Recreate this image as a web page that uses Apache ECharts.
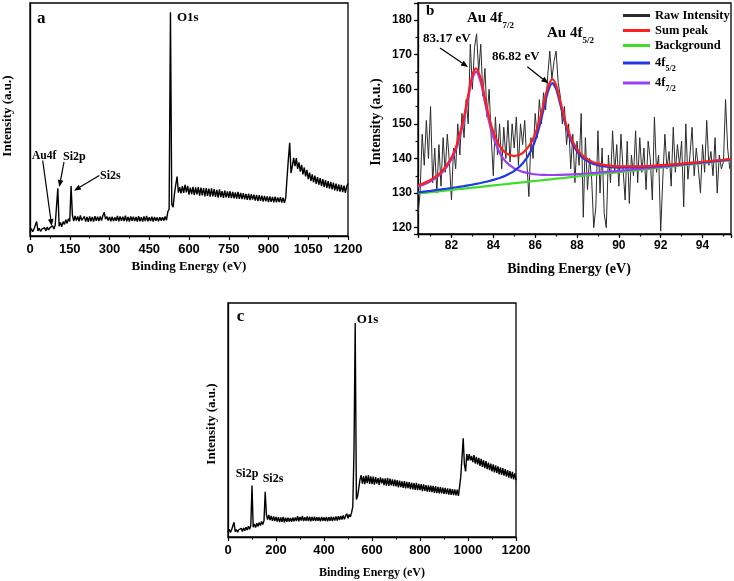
<!DOCTYPE html>
<html><head><meta charset="utf-8">
<script src="https://cdn.jsdelivr.net/npm/echarts@6/dist/echarts.min.js"></script>
<style>html,body{margin:0;padding:0;background:#fff}#c{width:734px;height:581px}</style>
</head><body><div id="c"></div>
<script>
// ---------- Panel a : survey spectrum (arbitrary intensity 0-100), sampled every 5 eV from 0 ----------
const surveyStart = 0, surveyStep = 5;
const surveyA = [
 2.0,3.2,1.8,3.0,2.6,6.2,2.2,3.3,2.0,3.0,
 2.4,3.6,2.2,3.8,2.6,3.5,3.0,4.4,3.0,4.6,
 3.8,20.5,4.2,5.8,4.0,6.2,5.0,7.0,5.4,7.4,
 6.2,21.5,9.0,6.4,8.6,6.6,8.4,6.3,8.8,6.7,
 6.4,8.4,6.2,8.2,6.1,8.4,6.3,8.2,6.2,8.5,
 6.5,8.3,6.4,8.4,6.6,8.8,10.2,7.2,8.4,6.6,
 8.2,6.3,8.3,6.4,8.0,6.5,8.6,6.3,8.4,6.5,
 8.3,6.4,8.7,6.3,8.2,6.2,8.4,6.5,8.3,6.4,
 8.2,6.2,8.5,6.3,8.1,6.2,8.4,6.4,8.6,6.3,
 8.1,6.4,8.3,6.2,8.2,6.5,8.0,6.3,8.1,6.6,
 8.0,6.6,8.4,6.8,10.4,11.5,96,13.5,12.4,18,
 22,25.5,18.6,21.0,18.3,21.4,18.5,22.0,18.7,21.5,
 17.8,20.8,18.0,21.1,17.5,20.9,17.9,21.0,17.3,20.8,
 17.4,20.6,17.0,20.5,17.2,20.3,16.9,20.4,17.0,20.1,
 16.8,19.8,16.5,20.0,16.7,19.3,16.4,19.5,16.6,19.1,
 16.4,19.2,16.3,18.9,16.2,18.7,16.0,18.9,15.9,18.5,
 15.8,18.4,15.7,18.1,15.5,18.2,15.4,17.9,15.6,17.7,
 15.2,17.6,15.0,17.5,15.1,17.3,14.8,17.2,14.9,17.0,
 14.6,17.0,14.7,16.8,14.5,16.9,14.4,16.6,14.6,16.7,
 14.3,16.5,14.2,16.4,25,33,40,27,30,33.5,
 30.0,33.4,28.8,31.6,27.6,30.5,26.4,29.4,25.6,28.4,
 24.4,27.2,23.6,26.4,23.0,25.9,22.4,25.3,22.0,24.8,
 21.4,24.4,21.0,24.0,20.6,23.6,20.3,23.2,20.0,22.9,
 19.6,22.5,19.3,22.2,19.0,21.9,18.8,21.6,18.5,21.3,
 22.5
];
// ---------- Panel c : survey spectrum, sampled every 5 eV from 0 ----------
const surveyC = [
 2.1,3.3,1.9,3.1,2.5,6.3,2.3,3.2,2.0,3.1,
 2.5,3.7,2.3,3.9,2.7,4.2,3.0,4.6,3.3,4.8,
 22.0,4.2,5.6,4.0,5.9,4.5,6.2,4.9,6.6,5.3,
 7.0,19.3,9.6,7.4,9.4,7.2,9.0,6.9,8.8,6.8,
 8.6,6.6,8.5,6.4,8.4,6.5,8.6,6.3,8.3,6.5,
 8.2,6.6,8.1,6.5,8.3,6.7,8.4,6.8,8.9,6.7,
 8.6,7.0,9.0,6.8,8.5,6.9,8.8,6.8,8.7,6.7,
 8.6,6.9,8.7,6.8,8.5,6.9,8.4,6.7,8.6,6.9,
 8.4,6.8,8.6,6.7,8.5,6.9,8.7,6.8,8.6,7.0,
 8.8,7.0,8.9,7.3,9.0,7.5,9.2,7.6,9.1,10.0,
 8.0,9.6,8.6,10.5,13,37,91.4,16,17.5,21,
 24.5,26.4,22.8,26.0,22.6,26.2,23.0,26.4,22.7,25.9,
 22.6,25.8,22.4,25.6,22.8,25.2,22.3,25.5,22.9,25.0,
 22.2,25.1,22.0,25.3,21.8,24.9,22.1,24.6,21.7,24.5,
 21.6,24.3,21.2,24.1,21.3,23.8,21.0,23.9,20.8,23.6,
 20.9,23.4,20.5,23.2,20.4,23.0,20.1,23.1,20.0,22.7,
 20.0,22.6,19.6,22.5,19.7,22.2,19.4,22.1,19.3,21.9,
 19.2,21.8,18.9,21.7,18.8,21.4,18.6,21.3,18.6,21.1,
 18.4,21.0,18.3,20.8,18.1,20.7,18.0,20.4,17.9,20.3,
 17.8,20.2,17.6,21.5,26,34,42.2,31,28,35.5,
 32.6,35.4,32.8,34.6,32.0,35.0,31.4,34.2,31.0,33.8,
 30.4,33.4,30.0,32.8,29.4,32.4,29.0,31.8,28.6,31.4,
 28.0,31.0,27.6,30.6,27.4,30.2,26.8,29.8,26.6,29.4,
 26.2,29.0,25.8,28.6,25.4,28.2,25.0,27.8,24.6,27.2,
 24.3
];
// ---------- Panel b : Au 4f raw intensity, every 0.1 eV from 80.4 ----------
const rawStart = 80.4, rawStep = 0.1;
const rawB = [
 124,130,147,138,151,140,155,133,143,130,
 144,132,146,136,147,139,128,143,137,150,
 141,153,146,157,150,173,160,172,176,165,
 173,158,166,152,160,146,135,152,141,150,
 137,149,140,151,139,150,143,152,138,150,
 144,151,139,129,146,140,153,146,157,150,
 159,154,164,171,163,168,171,162,158,150,
 155,144,150,137,147,133,145,138,153,123,
 146,131,140,134,120,126,148,130,143,124,
 120,141,133,148,136,144,132,147,137,128,
 145,127,141,135,148,133,146,136,143,131,
 145,140,128,152,136,141,119,134,147,137,
 142,132,149,136,144,138,145,126,150,134,
 141,149,135,143,137,130,144,136,151,138,
 142,135,146,130,141,137,139,157,143,137
];
// fitted curves (panel b)
const fitE   = [80.4,80.6,81.0,81.5,82.0,82.3,82.6,82.8,83.0,83.17,83.4,83.6,83.8,84.0,84.3,84.6,85.0,85.4,85.8,86.1,86.4,86.6,86.82,87.0,87.2,87.5,87.8,88.2,88.6,89.0,89.5,90.0,91.0,92.0,93.0,94.0,95.0,95.36];
const fitSum = [132.2,132.66,133.80,136.04,140.28,144.87,152.11,158.35,163.99,166.04,163.07,157.45,151.93,147.69,143.64,141.55,140.69,141.53,144.45,148.82,155.63,160.44,162.92,161.21,156.65,149.57,144.78,141.24,139.44,138.51,137.94,137.70,137.74,138.07,138.53,139.05,139.62,139.83];
const fitBg  = [129.87,130.0,130.26,130.58,130.90,131.10,131.29,131.42,131.55,131.66,131.81,131.94,132.07,132.20,132.40,132.59,132.85,133.11,133.37,133.56,133.76,133.89,134.03,134.15,134.28,134.47,134.67,134.93,135.18,135.44,135.77,136.07,136.72,137.36,138.01,138.65,139.30,139.53];
const fit52  = [130.2,130.35,130.65,131.05,131.47,131.75,132.03,132.24,132.45,132.64,132.92,133.19,133.48,133.81,134.38,135.10,136.42,138.53,142.24,147.02,154.13,159.10,161.73,160.13,155.67,148.72,144.03,140.60,138.89,138.03,137.54,137.35,137.48,137.86,138.36,138.91,139.50,139.72];
const fit72  = [131.87,132.31,133.41,135.57,139.71,144.22,151.37,157.53,163.09,165.06,161.96,156.20,150.52,146.08,141.66,139.05,137.12,136.11,135.58,135.36,135.26,135.22,135.22,135.23,135.26,135.32,135.42,135.57,135.73,135.92,136.17,136.42,136.99,137.57,138.18,138.79,139.42,139.64];
const legendNames = ['Raw Intensity','Sum peak','Background','4f5/2','4f7/2'];

function grid(start, step, vals){ return vals.map((v,i)=>[Math.round((start+i*step)*1000)/1000, v]); }
function pairs(xs, ys){ return xs.map((x,i)=>[x, ys[i]]); }

const SERIF = 'Liberation Serif', SANS = 'Liberation Sans';
const blk = '#000';
const tickLabel = {color:blk, fontFamily:SANS, fontWeight:'bold', fontSize:13};
const plain = (v)=>String(v);

function xAx(gi, extra){ return Object.assign({gridIndex:gi, type:'value', position:'bottom',
  axisLine:{show:true, onZero:false, lineStyle:{color:blk, width:1.3}},
  axisTick:{show:true, inside:false, length:4, lineStyle:{color:blk, width:1.2}},
  minorTick:{show:false}, splitLine:{show:false},
  axisLabel:Object.assign({margin:7, formatter:plain}, tickLabel)}, extra); }

const evenInt = (m)=> (v)=>{ const r=Math.round(v); return (Math.abs(v-r)<1e-6 && r % m === 0) ? String(r) : ''; };

const option = {
  animation:false,
  backgroundColor:'#fff',
  grid:[
    {left:30, top:3, width:318, height:233, show:true, borderColor:blk, borderWidth:1.3, backgroundColor:'transparent'},
    {left:418, top:3, width:315, height:231, show:true, borderColor:blk, borderWidth:1.3, backgroundColor:'transparent'},
    {left:228, top:303, width:288, height:234, show:true, borderColor:blk, borderWidth:1.3, backgroundColor:'transparent'}
  ],
  xAxis:[
    xAx(0,{min:0, max:1200, interval:150, minorTick:{show:true, splitNumber:2, length:2.5, lineStyle:{color:blk}}}),
    xAx(1,{min:80.4, max:95.36, splitNumber:7, axisLabel:Object.assign({margin:6}, tickLabel, {fontSize:12, formatter:evenInt(2)})}),
    xAx(1,{min:80.4, max:95.36, splitNumber:14, axisLine:{show:false}, axisTick:{show:true, length:2.5, lineStyle:{color:blk, width:1.2}}, axisLabel:{show:false}}),
    xAx(2,{min:0, max:1200, interval:200, minorTick:{show:true, splitNumber:2, length:2.5, lineStyle:{color:blk}}})
  ],
  yAxis:[
    {gridIndex:0, type:'value', min:0, max:100, axisLine:{show:true, lineStyle:{color:blk, width:1.3}}, axisTick:{show:false}, axisLabel:{show:false}, splitLine:{show:false}},
    {gridIndex:1, type:'value', position:'left', min:118.18, max:184.9, splitNumber:7,
      axisLine:{show:true, onZero:false, lineStyle:{color:blk, width:1.3}}, axisTick:{show:true, length:4, lineStyle:{color:blk, width:1.2}},
      axisLabel:Object.assign({margin:6}, tickLabel, {fontSize:12, formatter:evenInt(10)}), splitLine:{show:false}},
    {gridIndex:1, type:'value', position:'left', min:118.18, max:184.9, splitNumber:13,
      axisLine:{show:false}, axisTick:{show:true, length:2.5, lineStyle:{color:blk, width:1.2}}, axisLabel:{show:false}, splitLine:{show:false}},
    {gridIndex:2, type:'value', min:0, max:100, axisLine:{show:true, lineStyle:{color:blk, width:1.3}}, axisTick:{show:false}, axisLabel:{show:false}, splitLine:{show:false}}
  ],
  legend:{
    orient:'vertical', left:623, top:8, padding:0, itemGap:0, itemWidth:27, itemHeight:3, icon:'rect',
    selectedMode:false, data:legendNames,
    formatter:(n)=> n==='4f5/2' ? '4f{s|5/2}' : (n==='4f7/2' ? '4f{s|7/2}' : n),
    textStyle:{fontFamily:SERIF, fontWeight:'bold', fontSize:12.5, color:blk, lineHeight:15,
      rich:{s:{fontFamily:SERIF, fontWeight:'bold', fontSize:8, color:blk, verticalAlign:'bottom', lineHeight:20}}}
  },
  series:[
    {type:'line', name:'survey a', xAxisIndex:0, yAxisIndex:0, data:grid(surveyStart, surveyStep, surveyA), showSymbol:false, lineStyle:{color:blk, width:1.4}, itemStyle:{color:blk}},
    {type:'line', name:'survey c', xAxisIndex:3, yAxisIndex:3, data:grid(surveyStart, surveyStep, surveyC), showSymbol:false, lineStyle:{color:blk, width:1.4}, itemStyle:{color:blk}},
    {type:'line', name:'Raw Intensity', xAxisIndex:1, yAxisIndex:1, data:grid(rawStart, rawStep, rawB), showSymbol:false, lineStyle:{color:'#2b2b2b', width:1}, itemStyle:{color:'#2b2b2b'}},
    {type:'line', name:'Background', xAxisIndex:1, yAxisIndex:1, data:pairs(fitE, fitBg), showSymbol:false, lineStyle:{color:'#3fdc2a', width:2.2}, itemStyle:{color:'#3fdc2a'}},
    {type:'line', name:'4f7/2', xAxisIndex:1, yAxisIndex:1, data:pairs(fitE, fit72), smooth:0.3, showSymbol:false, lineStyle:{color:'#9a40f0', width:2.2}, itemStyle:{color:'#9a40f0'}},
    {type:'line', name:'4f5/2', xAxisIndex:1, yAxisIndex:1, data:pairs(fitE, fit52), smooth:0.3, showSymbol:false, lineStyle:{color:'#2038e6', width:2.2}, itemStyle:{color:'#2038e6'}},
    {type:'line', name:'Sum peak', xAxisIndex:1, yAxisIndex:1, data:pairs(fitE, fitSum), smooth:0.3, showSymbol:false, lineStyle:{color:'#ff1e1e', width:2.2}, itemStyle:{color:'#ff1e1e'}}
  ]
};

function txt(x, y, text, size, extra){ return {type:'text', x:x, y:y, z:50, style:Object.assign({text:text, fill:blk, font:'bold '+size+'px "'+SERIF+'"', textVerticalAlign:'middle', textAlign:'left'}, extra||{})}; }
function arrow(x1,y1,x2,y2){
  const dx=x2-x1, dy=y2-y1, L=Math.hypot(dx,dy), ux=dx/L, uy=dy/L, hl=7, hw=2.8;
  const bx=x2-ux*hl, by=y2-uy*hl;
  return [
    {type:'line', z:50, shape:{x1:x1,y1:y1,x2:bx,y2:by}, style:{stroke:blk, lineWidth:1.2}},
    {type:'polygon', z:50, shape:{points:[[x2,y2],[bx-uy*hw,by+ux*hw],[bx+uy*hw,by-ux*hw]]}, style:{fill:blk}}
  ];
}
const subRich = (main, sub)=>({type:'text', z:50, style:{text:'{m|'+main+'}{s|'+sub+'}', fill:blk, textVerticalAlign:'top',
  rich:{m:{fontFamily:SERIF, fontWeight:'bold', fontSize:15, lineHeight:24, fill:blk, verticalAlign:'middle'},
        s:{fontFamily:SERIF, fontWeight:'bold', fontSize:9, lineHeight:24, fill:blk, verticalAlign:'bottom'}}}});

const graphics = [
  // panel a
  txt(37, 19, 'a', 17), txt(177, 17.5, 'O1s', 13),
  txt(32, 156, 'Au4f', 11.5), txt(63, 157, 'Si2p', 12), txt(100, 176, 'Si2s', 12),
  ...arrow(42.7,160.5,51.7,226), ...arrow(64,162,59.3,187), ...arrow(99.3,175.5,74,190.7),
  txt(189, 267, 'Binding Energy (eV)', 13, {textAlign:'center'}),
  Object.assign(txt(8, 116, 'Intensity (a.u.)', 13, {textAlign:'center'}), {rotation:Math.PI/2}),
  // panel b
  txt(426, 11, 'b', 15),
  Object.assign(subRich('Au 4f','7/2'), {x:467, y:6}),
  Object.assign(subRich('Au 4f','5/2'), {x:547, y:21}),
  txt(423, 38.5, '83.17 eV', 13), txt(492, 57, '86.82 eV', 13),
  ...arrow(440,48,468,67), ...arrow(527.3,66.7,548.3,83.3),
  txt(569, 269, 'Binding Energy (eV)', 14, {textAlign:'center'}),
  Object.assign(txt(376, 122, 'Intensity (a.u.)', 14, {textAlign:'center'}), {rotation:Math.PI/2}),
  // panel c
  txt(236.7, 316.5, 'c', 17), txt(356.7, 320, 'O1s', 13),
  txt(235.7, 474, 'Si2p', 12), txt(262.7, 479, 'Si2s', 12),
  txt(372, 573, 'Binding Energy (eV)', 12, {textAlign:'center'}),
  Object.assign(txt(212, 424, 'Intensity (a.u.)', 13, {textAlign:'center'}), {rotation:Math.PI/2})
];
option.graphic = graphics;

const chart = echarts.init(document.getElementById('c'), null, {renderer:'canvas'});
chart.setOption(option);
</script></body></html>
